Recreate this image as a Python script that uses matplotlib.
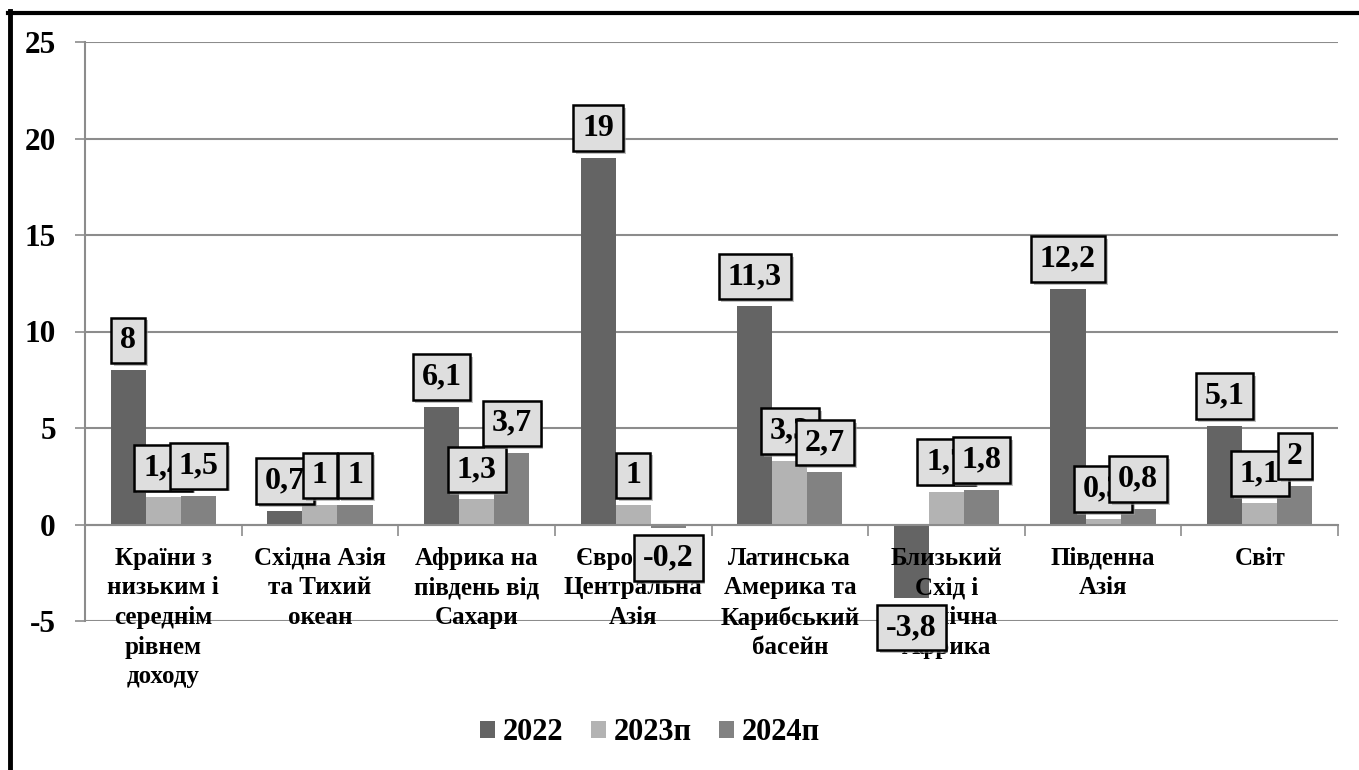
import numpy as np
import matplotlib
matplotlib.use("Agg")
import matplotlib.pyplot as plt
from matplotlib.lines import Line2D
from matplotlib.path import Path
import matplotlib.patheffects as pe

plt.rcParams['font.family'] = ['Liberation Serif', 'DejaVu Serif']
plt.rcParams['font.weight'] = 'bold'

categories = [
    "Країни з\nнизьким і\nсереднім\nрівнем\nдоходу",
    "Східна Азія\nта Тихий\nокеан",
    "Африка на\nпівдень від\nСахари",
    "Європа та\nЦентральна\nАзія",
    "Латинська\nАмерика та\nКарибський\nбасейн",
    "Близький\nСхід і\nПівнічна\nАфрика",
    "Південна\nАзія",
    "Світ",
]
series_names = ["2022", "2023п", "2024п"]
values_2022 = [8, 0.7, 6.1, 19, 11.3, -3.8, 12.2, 5.1]
values_2023 = [1.4, 1, 1.3, 1, 3.3, 1.7, 0.3, 1.1]
values_2024 = [1.5, 1, 3.7, -0.2, 2.7, 1.8, 0.8, 2]
colors = ["#646464", "#b3b3b3", "#828282"]


def label_box(x0, y0, width, height, mutation_size):
    # plain rectangle, padding set separately for x and y
    px = 0.28 * mutation_size
    py = 0.26 * mutation_size
    x0, y0 = x0 - px, y0 - py
    x1, y1 = x0 + width + 2 * px, y0 + height + 2 * py
    return Path([(x0, y0), (x1, y0), (x1, y1), (x0, y1), (x0, y0)], closed=True)


fig = plt.figure(figsize=(13.59, 7.70), dpi=100)
ax = fig.add_axes([85 / 1359, 1 - 621 / 770, (1338 - 85) / 1359, (621 - 42) / 770])

x = np.arange(len(categories))
width = 0.224
all_series = [values_2022, values_2023, values_2024]
bars = []
for i, (vals, name, col) in enumerate(zip(all_series, series_names, colors)):
    b = ax.bar(x + (i - 1) * width, vals, width, color=col, label=name, zorder=2)
    bars.append(b)

def fmt(v):
    return f"{v:g}".replace(".", ",")

for b, vals in zip(bars, all_series):
    for rect, v in zip(b, vals):
        cx = rect.get_x() + rect.get_width() / 2
        off = 11 if v >= 0 else -11
        t = ax.annotate(fmt(v), (cx, v), xytext=(0, off), textcoords="offset points",
                        ha="center", va="bottom" if v >= 0 else "top",
                        fontsize=23, fontweight="bold", zorder=5,
                        bbox=dict(boxstyle=label_box, facecolor="#dedede",
                                  edgecolor="black", linewidth=1.8))
        t.get_bbox_patch().set_path_effects([
            pe.SimplePatchShadow(offset=(2, -2), shadow_rgbFace="#999999", alpha=0.6),
            pe.Normal()])

# category names under the zero line
for xi, name in zip(x, categories):
    ax.annotate(name, (xi, 0), xytext=(0, -16), textcoords="offset points",
                ha="center", va="top", fontsize=18, fontweight="bold",
                linespacing=1.37, zorder=4, annotation_clip=False)

ax.set_ylim(-5, 25)
ax.set_xlim(-0.5, len(categories) - 0.5)
ax.set_yticks([-5, 0, 5, 10, 15, 20, 25])
ax.set_yticklabels(["-5", "0", "5", "10", "15", "20", "25"])
ax.tick_params(axis="y", length=7, width=1.2, color="#8c8c8c", pad=14, labelsize=22.5)

ax.set_xticks([])
ax.set_xticks(np.arange(len(categories) + 1) - 0.5, minor=True)
ax.tick_params(axis="x", which="minor", length=8, width=1.2, color="#8c8c8c")

ax.spines["bottom"].set_position(("data", 0))
ax.spines["bottom"].set_color("#8c8c8c")
ax.spines["bottom"].set_linewidth(1.5)
ax.spines["left"].set_color("#8c8c8c")
ax.spines["left"].set_linewidth(1.5)
ax.spines["top"].set_visible(False)
ax.spines["right"].set_visible(False)

ax.grid(axis="y", color="#8c8c8c", linewidth=1.5)
ax.set_axisbelow(True)

leg = fig.legend(loc="center", bbox_to_anchor=(650 / 1359, 1 - 733 / 770), ncol=3,
                 frameon=False, prop={"size": 22, "weight": "bold"},
                 handlelength=0.5, handleheight=0.5, handletextpad=0.25,
                 columnspacing=0.9)

# outer frame (top and left edges)
fig.add_artist(Line2D([8 / 1359, 1], [1 - 12.5 / 770, 1 - 12.5 / 770],
                      transform=fig.transFigure, color="black", linewidth=3))
fig.add_artist(Line2D([9.5 / 1359, 9.5 / 1359], [0, 1 - 11 / 770],
                      transform=fig.transFigure, color="black", linewidth=3.5))

fig.savefig("out.png", dpi=100)
